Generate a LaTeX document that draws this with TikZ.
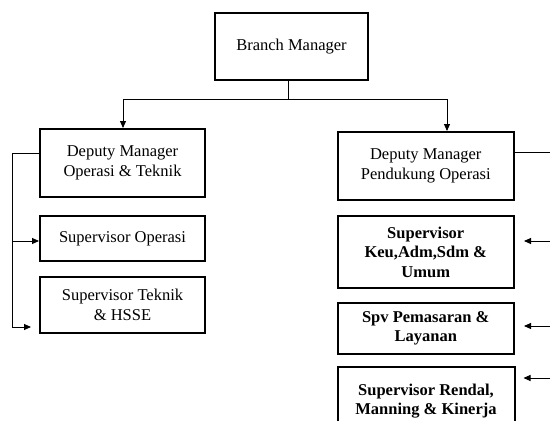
\documentclass[tikz,border=0pt]{standalone}
\usepackage{fontspec}
\setmainfont{Liberation Serif}
\usepackage{tikz}
\usetikzlibrary{arrows.meta}

\tikzset{
  jabatan/.style={draw, line width=2pt, align=center, inner sep=2pt,
    font=\fontsize{16.5}{19.5}\selectfont},
  jabatantebal/.style={jabatan, font=\fontsize{16.5}{19.5}\selectfont\bfseries},
  garis/.style={line width=0.9pt},
}

\begin{document}
\begin{tikzpicture}[line join=miter,>={Triangle[length=7pt,width=6pt]},x=1pt,y=-1pt]
\useasboundingbox (0,0) rectangle (550,421);
\clip (0,0) rectangle (550,421);
\node[jabatan, minimum width=153pt, minimum height=67pt] (bm) at (291.5,46.5) {Branch Manager};
\node[jabatan, minimum width=165pt, minimum height=68pt] (dmo) at (122.5,163) {Deputy Manager\\Operasi \& Teknik};
\node[jabatan, minimum width=176.5pt, minimum height=68pt] (dmp) at (425.75,166) {Deputy Manager\\Pendukung Operasi};
\node[jabatan, minimum width=165pt, minimum height=45pt] (so) at (122.5,238.5) {Supervisor Operasi};
\node[jabatan, minimum width=165pt, minimum height=56pt] (st) at (122.5,305) {Supervisor Teknik\\\& HSSE};
\node[jabatantebal, minimum width=176.5pt, minimum height=72pt] (sk) at (425.75,252) {Supervisor\\Keu,Adm,Sdm \&\\Umum};
\node[jabatantebal, minimum width=176.5pt, minimum height=51pt] (sp) at (425.75,328.5) {Spv Pemasaran \&\\Layanan};
\node[jabatantebal, minimum width=177pt, minimum height=68pt] (sr) at (426,401) {Supervisor Rendal,\\Manning \& Kinerja};
% garis dari branch manager
\coordinate (cab) at (288,99);
\coordinate (kiri) at (123,99);
\coordinate (kanan) at (447,99);
\draw[garis] (bm.south -| cab) -- (cab);
\draw[garis,->] (cab) -- (kiri) -- (kiri |- dmo.north);
\draw[garis,->] (cab) -- (kanan) -- (kanan |- dmp.north);
% operasi & teknik
\coordinate (sisikiri) at (12,153);
\coordinate (bawahkiri) at (12,327);
\draw[garis] (dmo.west |- sisikiri) -- (sisikiri) -- (bawahkiri);
\draw[garis,->] (sisikiri |- 0,241) -- (so.west |- 0,241);
\draw[garis,->] (bawahkiri) -- ([xshift=-8pt]st.west |- bawahkiri);
% pendukung operasi
\coordinate (sisikanan) at (553,152);
\draw[garis] (dmp.east |- sisikanan) -- (sisikanan) -- (553,421);
\draw[garis,->] (sisikanan |- 0,241) -- ([xshift=9pt]sk.east |- 0,241);
\draw[garis,->] (sisikanan |- 0,326) -- ([xshift=9pt]sp.east |- 0,326);
\draw[garis,->] (sisikanan |- 0,378) -- ([xshift=8pt]sr.east |- 0,378);
\end{tikzpicture}
\end{document}
